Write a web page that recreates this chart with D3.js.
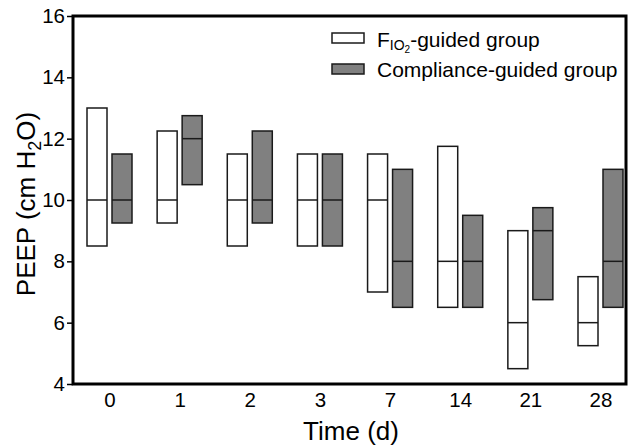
<!DOCTYPE html>
<html><head><meta charset="utf-8">
<script src="https://cdn.jsdelivr.net/npm/d3@7"></script>
<style>body{margin:0;background:#fff}svg{display:block;font-family:Arial,"Liberation Sans",sans-serif}</style>
</head><body><svg id="c" width="636" height="445"></svg>
<script>
const days = ["0","1","2","3","7","14","21","28"];
const fioLow = [8.5, 9.25, 8.5, 8.5, 7, 6.5, 4.5, 5.25];
const fioMed = [10, 10, 10, 10, 10, 8, 6, 6];
const fioHigh = [13, 12.25, 11.5, 11.5, 11.5, 11.75, 9, 7.5];
const compLow = [9.25, 10.5, 9.25, 8.5, 6.5, 6.5, 6.75, 6.5];
const compMed = [10, 12, 10, 10, 8, 8, 9, 8];
const compHigh = [11.5, 12.75, 12.25, 11.5, 11, 9.5, 9.75, 11];
const yTicks = [4, 6, 8, 10, 12, 14, 16];

const FF = "Arial, 'Liberation Sans', sans-serif";
const svg = d3.select("#c");
const L = 73, R = 626, T = 16, B = 384;
const x = d3.scalePoint().domain(days).range([109.5, 600.5]);
const y = d3.scaleLinear().domain([4, 16]).range([B, T]);
const bw = 20, gap = 2.5;

const series = [
  {low: fioLow, med: fioMed, high: fioHigh, fill: "#fff", off: -gap - bw},
  {low: compLow, med: compMed, high: compHigh, fill: "#808080", off: gap}
];
series.forEach(s => {
  const g = svg.append("g");
  days.forEach((d, i) => {
    const x0 = x(d) + s.off;
    g.append("rect").attr("x", x0).attr("y", y(s.high[i]))
      .attr("width", bw).attr("height", y(s.low[i]) - y(s.high[i]))
      .attr("fill", s.fill).attr("stroke", "#1a1a1a").attr("stroke-width", 1.5);
    g.append("line").attr("x1", x0).attr("x2", x0 + bw)
      .attr("y1", y(s.med[i])).attr("y2", y(s.med[i]))
      .attr("stroke", "#1a1a1a").attr("stroke-width", 1.5);
  });
});

// frame
svg.append("rect").attr("x", L).attr("y", T).attr("width", R - L).attr("height", B - T)
  .attr("fill", "none").attr("stroke", "#000").attr("stroke-width", 3);

// y axis
const ya = svg.append("g").attr("transform", `translate(${L},0)`)
  .call(d3.axisLeft(y).tickValues(yTicks).tickSize(6).tickPadding(2).tickFormat(d3.format("d")));
ya.select(".domain").remove();
ya.selectAll("line").attr("stroke", "#000").attr("stroke-width", 1.5);
ya.selectAll("text").attr("font-size", 20.5).attr("fill", "#000").attr("font-family", FF);

// x axis
const xa = svg.append("g").attr("transform", `translate(0,${B})`)
  .call(d3.axisBottom(x).tickSize(0).tickPadding(8));
xa.select(".domain").remove();
xa.selectAll("text").attr("font-size", 20.5).attr("fill", "#000").attr("font-family", FF);

// axis titles
svg.append("text").attr("x", 351).attr("y", 440).attr("text-anchor", "middle")
  .attr("font-size", 26).text("Time (d)");
const yt = svg.append("text").attr("transform", "translate(35,204) rotate(-90)")
  .attr("text-anchor", "middle").attr("font-size", 26);
yt.append("tspan").text("PEEP (cm H");
yt.append("tspan").attr("font-size", 18).attr("dy", 6).text("2");
yt.append("tspan").attr("dy", -6).text("O)");

// legend
svg.append("rect").attr("x", 332).attr("y", 33).attr("width", 32).attr("height", 10)
  .attr("fill", "#fff").attr("stroke", "#1a1a1a").attr("stroke-width", 1.5);
svg.append("rect").attr("x", 332).attr("y", 64).attr("width", 32).attr("height", 10)
  .attr("fill", "#808080").attr("stroke", "#1a1a1a").attr("stroke-width", 1.5);
const l1 = svg.append("text").attr("x", 377).attr("y", 47).attr("font-size", 21);
l1.append("tspan").text("F");
l1.append("tspan").attr("font-size", 14).attr("dy", 3).text("IO");
l1.append("tspan").attr("font-size", 10).attr("dy", 3).text("2");
l1.append("tspan").attr("dy", -6).text("-guided group");
svg.append("text").attr("x", 377).attr("y", 77).attr("font-size", 21).text("Compliance-guided group");
</script></body></html>
